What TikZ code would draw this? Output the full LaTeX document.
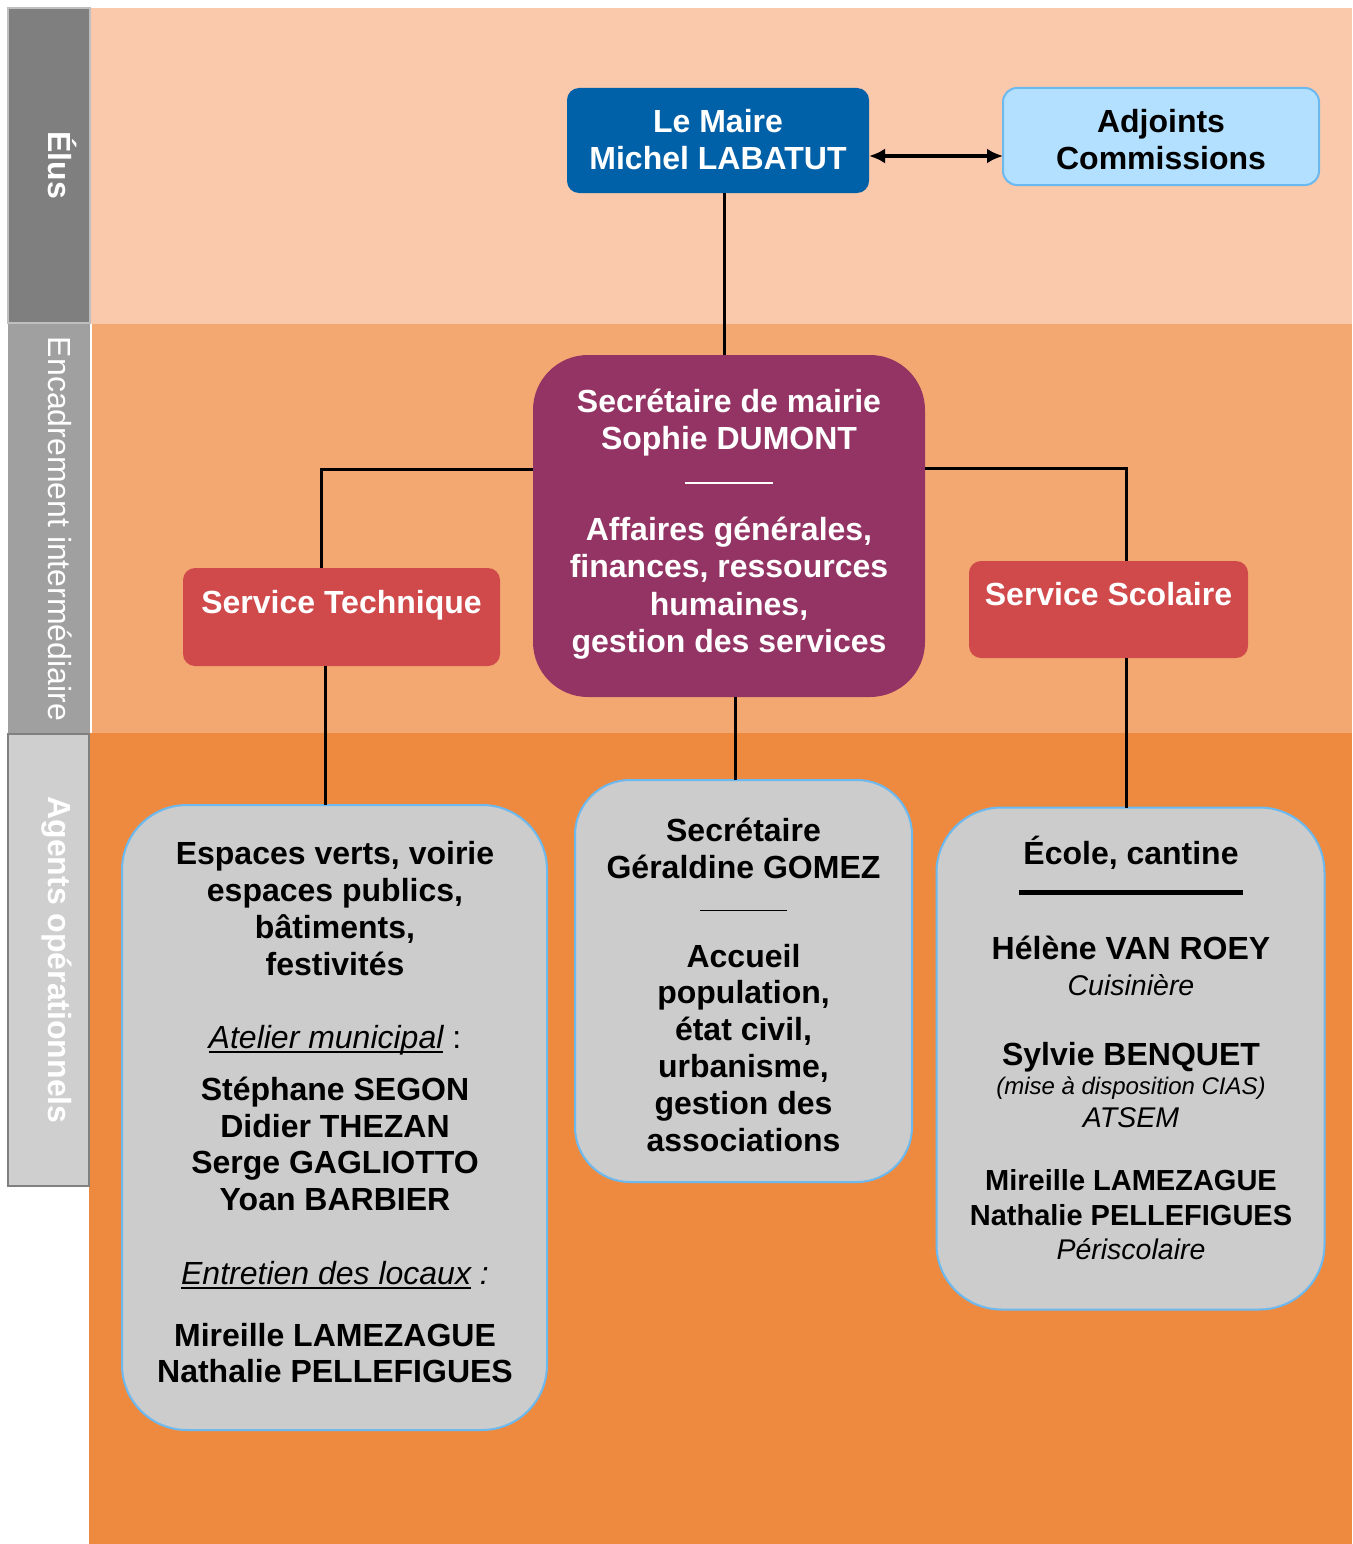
\documentclass[tikz,border=0pt]{standalone}
\usepackage{fontspec}
\setmainfont{Liberation Sans}
\usetikzlibrary{arrows.meta}
\definecolor{bandA}{HTML}{FAC8AA}
\definecolor{bandB}{HTML}{F3A871}
\definecolor{bandC}{HTML}{EE8A3F}
\definecolor{sideA}{HTML}{7F7F7F}
\definecolor{sideB}{HTML}{A0A0A0}
\definecolor{sideC}{HTML}{CFCFCF}
\definecolor{maireblue}{HTML}{0060A8}
\definecolor{adjblue}{HTML}{B3E0FF}
\definecolor{edgeblue}{HTML}{6CB9F0}
\definecolor{plum}{HTML}{943464}
\definecolor{servred}{HTML}{D04A4B}
\definecolor{boxgray}{HTML}{CCCCCC}
\newcommand{\myul}[1]{\setbox0=\hbox{#1}\rlap{\vrule width \wd0 height -3pt depth 5pt}\box0\relax}
\begin{document}
\begin{tikzpicture}[x=1pt,y=-1pt,
  ln/.style={anchor=base, inner sep=0pt},
  wb/.style={ln, text=white, font=\bfseries\fontsize{32}{37}\selectfont},
  kb/.style={ln, text=black, font=\bfseries\fontsize{32}{37}\selectfont},
  kbs/.style={ln, text=black, font=\bfseries\fontsize{29}{34}\selectfont},
  ki/.style={ln, text=black, font=\itshape\fontsize{32}{37}\selectfont},
  kim/.style={ln, text=black, font=\itshape\fontsize{28.5}{33}\selectfont},
  kis/.style={ln, text=black, font=\itshape\fontsize{24}{28}\selectfont},
  rect/.style={draw=none, inner sep=0pt, outer sep=0pt},
  graybox/.style={rect, fill=boxgray, draw=edgeblue, line width=2pt},
  conn/.style={draw=black, line width=3pt},
  bigtip/.style={Latex[length=18pt,width=17pt]},
  side/.style={ln, text=white, rotate=-90, font=\fontsize{32}{37}\selectfont}
]
\useasboundingbox (0,0) rectangle (1352,1544);
\fill[white] (0,0) rectangle (1352,1544);
% bands
\fill[bandA] (91,8) rectangle (1352,323.5);
\fill[bandB] (92,323.5) rectangle (1352,733);
\fill[bandC] (89,733) rectangle (1352,1544);
% side column
\fill[sideA, draw=black!25, line width=1.5pt] (8,8) rectangle (90,323);
\fill[sideB] (8,324) rectangle (90,733);
\fill[sideC, draw=black!50, line width=1.5pt] (8,734) rectangle (89,1186);
\node[side, font=\bfseries\fontsize{32}{37}\selectfont] (elus) at (48,165) {Élus};
\node[side] (encad) at (48,529) {Encadrement intermédiaire};
\node[side, font=\bfseries\fontsize{32}{37}\selectfont] (agents) at (48,960) {Agents opérationnels};

% boxes
\node[rect, fill=maireblue, rounded corners=12pt, minimum width=302pt, minimum height=105pt] (maire) at (718,140.5) {};
\node[rect, fill=adjblue, draw=edgeblue, line width=2pt, rounded corners=14pt, minimum width=316pt, minimum height=97pt] (adj) at (1161,136.5) {};
\node[rect, fill=plum, rounded corners=55pt, minimum width=392pt, minimum height=342pt] (sec) at (729,526) {};
\node[rect, fill=servred, rounded corners=12pt, minimum width=317pt, minimum height=98pt] (tech) at (341.5,617) {};
\node[rect, fill=servred, rounded corners=12pt, minimum width=279pt, minimum height=97pt] (scol) at (1108.5,609.5) {};
\node[graybox, rounded corners=65pt, minimum width=425pt, minimum height=625pt] (agl) at (334.5,1117.5) {};
\node[graybox, rounded corners=55pt, minimum width=337pt, minimum height=402pt] (agm) at (743.5,981) {};
\node[graybox, rounded corners=65pt, minimum width=388pt, minimum height=502pt] (agr) at (1130.5,1058.5) {};

% connectors
\draw[conn] ([xshift=6pt]maire.south) -- ([xshift=6pt]maire.south |- sec.north);
\draw[conn] ([yshift=57pt]sec.west) -| ([xshift=-20.5pt]tech.north);
\draw[conn] ([yshift=58pt]sec.east) -| ([xshift=17.5pt]scol.north);
\draw[conn] ([xshift=-16.5pt]tech.south) -- ([xshift=-16.5pt]tech.south |- agl.north);
\draw[conn] ([xshift=6pt]sec.south) -- ([xshift=6pt]sec.south |- agm.north);
\draw[conn] ([xshift=17.5pt]scol.south) -- ([xshift=17.5pt]scol.south |- agr.north);
\draw[conn, line width=3.5pt, {Latex[length=16pt,width=15pt]}-{Latex[length=16pt,width=15pt]}]
  ([yshift=-15.5pt]maire.east) -- ([yshift=-15.5pt]maire.east -| adj.west);

% texts
\node[wb] (m1) at (718,132) {Le Maire};
\node[wb] (m2) at (718,169) {Michel LABATUT};
\node[kb] (a1) at (1161,132) {Adjoints};
\node[kb] (a2) at (1161,169) {Commissions};

\node[wb] (s1) at (729,412) {Secrétaire de mairie};
\node[wb] (s2) at (729,449) {Sophie DUMONT};
\node[inner sep=0pt, text=white] (s3) at (729,483) {\rule{88pt}{1.6pt}};
\node[wb] (s4) at (729,540) {Affaires générales,};
\node[wb] (s5) at (729,577) {finances, ressources};
\node[wb] (s6) at (729,615) {humaines,};
\node[wb] (s7) at (729,652) {gestion des services};

\node[wb] (t1) at (341.5,613) {Service Technique};
\node[wb] (c1) at (1108.5,605) {Service Scolaire};

\node[kb] (l1) at (335,864) {Espaces verts, voirie};
\node[kb] (l2) at (335,901) {espaces publics,};
\node[kb] (l3) at (335,938) {bâtiments,};
\node[kb] (l4) at (335,975) {festivités};
\node[ki] (l5) at (335,1048) {\myul{Atelier municipal} \upshape :};
\node[kb] (l6) at (335,1100) {Stéphane SEGON};
\node[kb] (l7) at (335,1137) {Didier THEZAN};
\node[kb] (l8) at (335,1173) {Serge GAGLIOTTO};
\node[kb] (l9) at (335,1210) {Yoan BARBIER};
\node[ki] (l10) at (335,1284) {\myul{Entretien des locaux} :};
\node[kb] (l11) at (335,1346) {Mireille LAMEZAGUE};
\node[kb] (l12) at (335,1382) {Nathalie PELLEFIGUES};

\node[kb] (g1) at (743.5,841) {Secrétaire};
\node[kb] (g2) at (743.5,878) {Géraldine GOMEZ};
\node[inner sep=0pt] (g3) at (743.5,910.5) {\rule{87pt}{1.6pt}};
\node[kb] (g4) at (743.5,967) {Accueil};
\node[kb] (g5) at (743.5,1003) {population,};
\node[kb] (g6) at (743.5,1040) {état civil,};
\node[kb] (g7) at (743.5,1077) {urbanisme,};
\node[kb] (g8) at (743.5,1114) {gestion des};
\node[kb] (g9) at (743.5,1151) {associations};

\node[kb] (r1) at (1131,864) {École, cantine};
\node[inner sep=0pt] (r2) at (1131,892) {\rule{224pt}{5pt}};
\node[kb] (r3) at (1131,959) {Hélène VAN ROEY};
\node[kim] (r4) at (1131,995) {Cuisinière};
\node[kb] (r5) at (1131,1065) {Sylvie BENQUET};
\node[kis] (r6) at (1131,1094) {(mise à disposition CIAS)};
\node[kim] (r7) at (1131,1127) {ATSEM};
\node[kbs] (r8) at (1131,1190) {Mireille LAMEZAGUE};
\node[kbs] (r9) at (1131,1225) {Nathalie PELLEFIGUES};
\node[kim] (r10) at (1131,1259) {Périscolaire};
\end{tikzpicture}
\end{document}
